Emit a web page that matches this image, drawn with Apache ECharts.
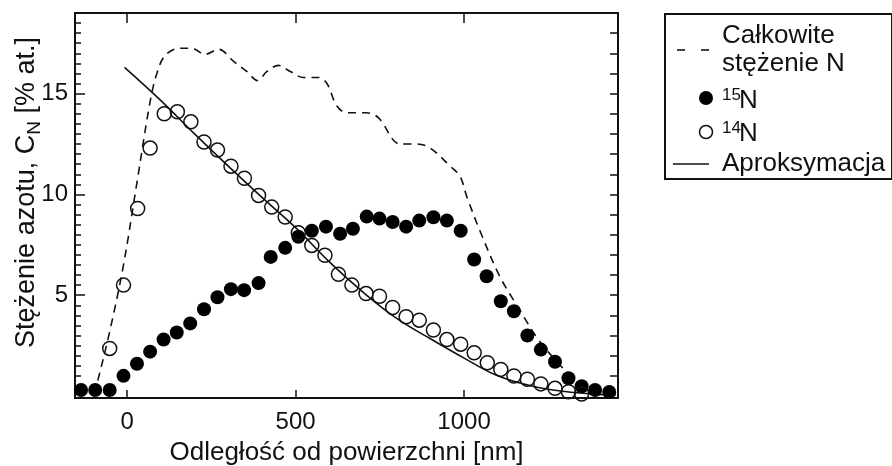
<!DOCTYPE html>
<html>
<head>
<meta charset="utf-8">
<script src="https://cdn.jsdelivr.net/npm/echarts@6/dist/echarts.min.js"></script>
<style>
  html, body { margin: 0; padding: 0; background: #fff; }
  #chart { width: 892px; height: 466px; }
</style>
</head>
<body>
<div id="chart"></div>
<script>
// całkowite stężenie N (dashed line)
const totalN = [
  [-100, 0.1], [-90, 0.6], [-52, 3.2], [-11, 6.5], [29, 10.6], [68, 14.6], [88, 16.0],
  [113, 16.9], [157, 17.25], [192, 17.25], [231, 16.95], [271, 17.2], [316, 16.6],
  [355, 16.1], [387, 15.65], [415, 16.1], [449, 16.4], [484, 16.1], [523, 15.8],
  [568, 15.8], [593, 15.5], [622, 14.4], [652, 14.05], [711, 14.05], [746, 13.8],
  [810, 12.5], [860, 12.5], [899, 12.3], [959, 11.4], [988, 10.9], [1008, 9.9],
  [1047, 8.2], [1107, 5.9], [1166, 4.25], [1216, 2.9], [1265, 1.9], [1305, 1.2],
  [1350, 0.6], [1430, 0.2]
];
// 15N (filled circles)
const n15 = [
  [-137, 0.3], [-95, 0.3], [-52, 0.3], [-11, 1.0], [29, 1.6], [68, 2.2], [108, 2.8],
  [147, 3.15], [187, 3.6], [228, 4.3], [268, 4.9], [308, 5.3], [347, 5.25], [390, 5.6],
  [426, 6.9], [469, 7.35], [508, 7.9], [548, 8.2], [590, 8.4], [632, 8.05], [670, 8.3],
  [711, 8.9], [749, 8.8], [788, 8.63], [828, 8.4], [867, 8.7], [909, 8.87], [949, 8.7],
  [990, 8.2], [1030, 6.77], [1067, 5.94], [1109, 4.7], [1148, 4.2], [1188, 3.0],
  [1228, 2.3], [1270, 1.7], [1310, 0.88], [1349, 0.48], [1389, 0.3], [1431, 0.2]
];
// 14N (open circles)
const n14 = [
  [-52, 2.36], [-11, 5.5], [31, 9.3], [68, 12.3], [110, 14.0], [149, 14.1], [189, 13.6],
  [228, 12.6], [268, 12.2], [308, 11.4], [348, 10.8], [390, 9.95], [429, 9.37], [469, 8.88],
  [508, 8.1], [548, 7.47], [587, 6.98], [627, 6.04], [667, 5.5], [709, 5.08], [749, 4.95],
  [788, 4.39], [828, 3.93], [867, 3.76], [909, 3.27], [949, 2.8], [990, 2.57], [1030, 2.14],
  [1069, 1.65], [1109, 1.32], [1148, 0.99], [1188, 0.83], [1228, 0.6], [1270, 0.38],
  [1310, 0.21], [1349, 0.1]
];
// aproksymacja (solid line)
const fit = [
  [-8, 16.3], [100, 14.65], [200, 13.0], [300, 11.4], [400, 9.85], [500, 8.35],
  [600, 6.65], [700, 5.15], [800, 3.85], [900, 2.84], [1000, 1.88], [1100, 1.0],
  [1200, 0.5], [1300, 0.22], [1400, 0.08], [1450, 0.05]
];

const xTicks = [0, 500, 1000];
const yTicks = [5, 10, 15];
const yMinorTicks = [0.5, 1, 1.5, 2, 2.5, 3, 3.5, 4, 4.5, 5.5, 6, 6.5, 7, 7.5, 8, 8.5, 9, 9.5,
  10.5, 11, 11.5, 12, 12.5, 13, 13.5, 14, 14.5, 15.5, 16, 16.5, 17, 17.5, 18, 18.5];
const yRightTicks = [1, 2, 3, 4, 5, 6, 7, 8, 9, 10, 11, 12, 13, 14, 15, 16, 17, 18];

const FONT = 'Liberation Sans';
const BLACK = '#111';

const chart = echarts.init(document.getElementById('chart'), null, { renderer: 'canvas' });

const frameLine = { show: true, onZero: false, lineStyle: { color: BLACK, width: 2 } };
const X_MIN = -155, X_MAX = 1457, Y_MIN = -0.1, Y_MAX = 19;

const option = {
  backgroundColor: '#fff',
  animation: false,
  textStyle: { fontFamily: FONT },
  grid: { left: 75, right: 274, top: 13, bottom: 68, containLabel: false, outerBoundsMode: 'none' },
  xAxis: [
    {
      type: 'value', position: 'bottom', min: X_MIN, max: X_MAX,
      axisLine: frameLine,
      axisTick: { inside: true, length: 8, customValues: xTicks, lineStyle: { color: BLACK, width: 1.5 } },
      axisLabel: {
        customValues: xTicks, fontSize: 24, margin: 12, color: BLACK, fontFamily: FONT,
        formatter: (v) => String(v)
      },
      splitLine: { show: false },
      name: 'Odległość od powierzchni [nm]',
      nameLocation: 'middle', nameGap: 42, nameMoveOverlap: false,
      nameTextStyle: { fontSize: 26, color: BLACK, fontFamily: FONT }
    },
    {
      type: 'value', position: 'top', min: X_MIN, max: X_MAX,
      axisLine: frameLine,
      axisTick: { inside: true, length: 10, customValues: xTicks, lineStyle: { color: BLACK, width: 1.5 } },
      axisLabel: { show: false },
      splitLine: { show: false }
    }
  ],
  yAxis: [
    {
      type: 'value', position: 'left', min: Y_MIN, max: Y_MAX,
      axisLine: frameLine,
      axisTick: { inside: true, length: 10, customValues: yTicks, lineStyle: { color: BLACK, width: 1.5 } },
      axisLabel: {
        customValues: yTicks, fontSize: 24, margin: 7, color: BLACK, fontFamily: FONT,
        formatter: (v) => String(v)
      },
      splitLine: { show: false },
      name: '{a|Stężenie azotu, C}{s|N}{a| [% at.]}',
      nameLocation: 'middle', nameGap: 35, nameRotate: 90, nameMoveOverlap: false,
      nameTextStyle: {
        color: BLACK, fontFamily: FONT,
        padding: [0, 0, 0, 26],
        rich: {
          a: { fontSize: 27, color: BLACK, fontFamily: FONT },
          s: { fontSize: 19, color: BLACK, fontFamily: FONT, verticalAlign: 'bottom', padding: [0, 0, -4, 0] }
        }
      }
    },
    {
      type: 'value', position: 'left', min: Y_MIN, max: Y_MAX,
      axisLine: { show: false, onZero: false },
      axisTick: { inside: true, length: 6, customValues: yMinorTicks, lineStyle: { color: BLACK, width: 1.5 } },
      axisLabel: { show: false },
      splitLine: { show: false }
    },
    {
      type: 'value', position: 'right', min: Y_MIN, max: Y_MAX,
      axisLine: frameLine,
      axisTick: { inside: true, length: 8, customValues: yRightTicks, lineStyle: { color: BLACK, width: 1.5 } },
      axisLabel: { show: false },
      splitLine: { show: false }
    }
  ],
  series: [
    {
      name: 'Całkowite stężenie N', type: 'line', data: totalN,
      showSymbol: false, symbol: 'none', smooth: 0.35,
      lineStyle: { color: BLACK, width: 1.6, type: [8, 6] }, z: 2
    },
    {
      name: 'Aproksymacja', type: 'line', data: fit,
      showSymbol: false, symbol: 'none', smooth: 0.4,
      lineStyle: { color: BLACK, width: 1.6 }, z: 2
    },
    {
      name: '15N', type: 'scatter', data: n15, symbol: 'circle', symbolSize: 14,
      itemStyle: { color: '#000', opacity: 1 }, z: 3
    },
    {
      name: '14N', type: 'scatter', data: n14, symbol: 'circle', symbolSize: 14,
      itemStyle: { color: 'rgba(0,0,0,0)', borderColor: BLACK, borderWidth: 1.5, opacity: 1 }, z: 3
    }
  ],
  graphic: [
    {
      type: 'group', left: 664, top: 13,
      children: [
        { type: 'rect', shape: { x: 0, y: 0, width: 227, height: 165 }, style: { fill: '#fff', stroke: BLACK, lineWidth: 2 } },
        { type: 'line', shape: { x1: 12, y1: 36, x2: 20, y2: 36 }, style: { stroke: BLACK, lineWidth: 1.6 } },
        { type: 'line', shape: { x1: 36, y1: 36, x2: 44, y2: 36 }, style: { stroke: BLACK, lineWidth: 1.6 } },
        { type: 'text', x: 57, y: 22, style: { text: 'Całkowite', fontSize: 26, fontFamily: FONT, fill: BLACK, verticalAlign: 'middle' } },
        { type: 'text', x: 57, y: 50, style: { text: 'stężenie N', fontSize: 26, fontFamily: FONT, fill: BLACK, verticalAlign: 'middle' } },
        { type: 'circle', shape: { cx: 41, cy: 84, r: 7 }, style: { fill: '#000' } },
        { type: 'text', x: 57, y: 81, style: { text: '15', fontSize: 17, fontFamily: FONT, fill: BLACK, verticalAlign: 'middle' } },
        { type: 'text', x: 74, y: 87, style: { text: 'N', fontSize: 26, fontFamily: FONT, fill: BLACK, verticalAlign: 'middle' } },
        { type: 'circle', shape: { cx: 41, cy: 118, r: 6.5 }, style: { fill: 'none', stroke: BLACK, lineWidth: 1.5 } },
        { type: 'text', x: 57, y: 114, style: { text: '14', fontSize: 17, fontFamily: FONT, fill: BLACK, verticalAlign: 'middle' } },
        { type: 'text', x: 74, y: 120, style: { text: 'N', fontSize: 26, fontFamily: FONT, fill: BLACK, verticalAlign: 'middle' } },
        { type: 'line', shape: { x1: 8, y1: 150, x2: 44, y2: 150 }, style: { stroke: BLACK, lineWidth: 1.6 } },
        { type: 'text', x: 57, y: 150, style: { text: 'Aproksymacja', fontSize: 26, fontFamily: FONT, fill: BLACK, verticalAlign: 'middle' } }
      ]
    }
  ]
};

chart.setOption(option);
</script>
</body>
</html>
